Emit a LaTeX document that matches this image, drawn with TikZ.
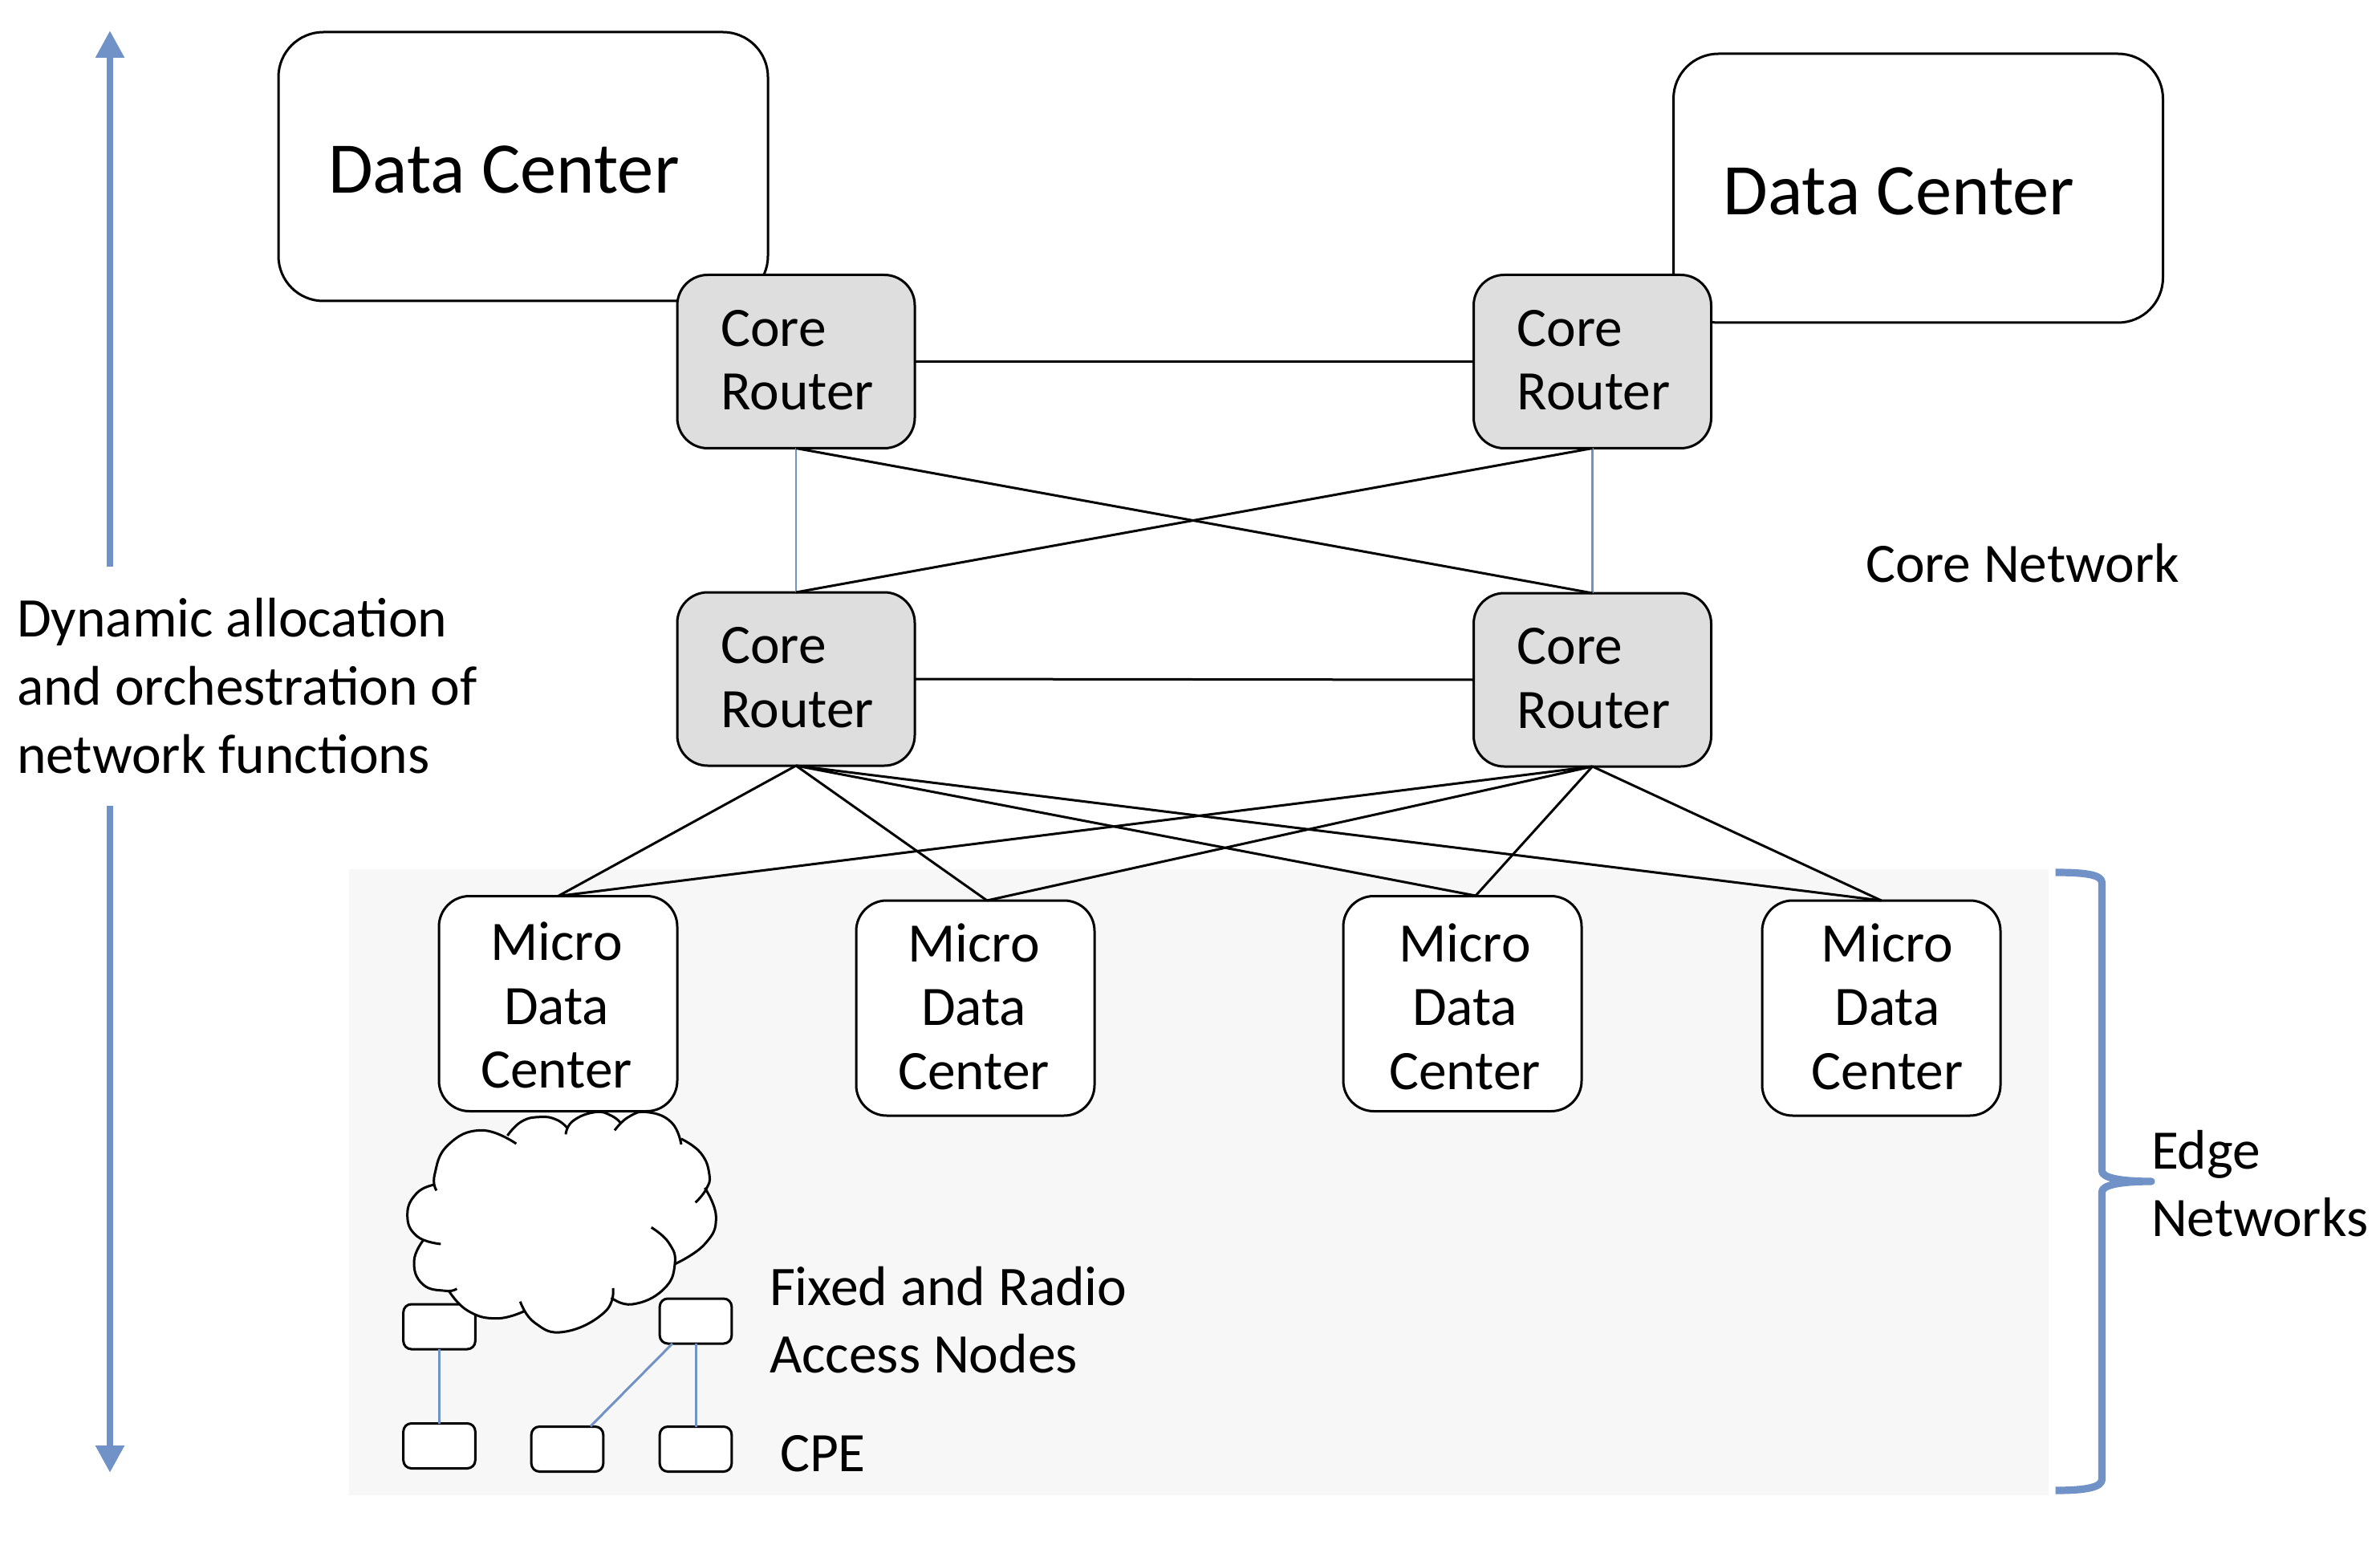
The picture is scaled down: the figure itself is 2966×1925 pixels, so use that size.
\documentclass[tikz,border=0pt]{standalone}
\usepackage{fontspec}
\setmainfont{Carlito}
\usetikzlibrary{arrows.meta}
\definecolor{bluel}{HTML}{7092C6}
\definecolor{coregray}{HTML}{DEDEDE}
\definecolor{edgegray}{HTML}{F7F7F7}
\tikzset{
  boxbase/.style={draw=black,line width=1.5pt,rounded corners=19pt,outer sep=0pt,inner sep=0pt},
  dcbox/.style={boxbase,fill=white,rounded corners=28pt,minimum width=305pt,minimum height=167.5pt,
     font=\fontsize{45.3}{50}\selectfont},
  corebox/.style={boxbase,fill=coregray,minimum width=148pt,minimum height=108pt,
     font=\fontsize{34.7}{39.75}\selectfont},
  microbox/.style={boxbase,fill=white,minimum width=148.5pt,minimum height=134pt,
     font=\fontsize{34.7}{39.75}\selectfont},
  smallbox/.style={draw=black,line width=1.5pt,fill=white,rounded corners=5pt,outer sep=0pt,inner sep=0pt,
     minimum width=44.8pt,minimum height=28pt},
  label/.style={inner sep=0pt,outer sep=0pt,anchor=base west,align=left,
     font=\fontsize{34.7}{42}\selectfont},
  blk/.style={draw=black,line width=1.5pt},
  thinblue/.style={draw=bluel,line width=1.3pt},
  fatarrow/.style={draw=bluel,line width=4.3pt,-{Triangle[length=17pt,width=17pt]}},
  lobe/.style={line width=1.5pt,draw=black,line cap=butt}
}
\newcommand{\lobefill}[1]{\fill[white] plot[smooth,tension=0.8] coordinates {#1};}
\newcommand{\lobedraw}[1]{\draw[lobe] plot[smooth,tension=0.8] coordinates {#1};}
% text placed inside a box, nudged by (#1 right, #2 up) without changing the box
\newcommand{\microtext}[2]{\kern#1\raisebox{#2}[\height][\depth]{\parbox[c]{140pt}{\centering Micro\\Data\\Center}}\kern-#1\relax}
\newcommand{\coretext}{\kern3.2pt\raisebox{0.9pt}[\height][\depth]{\parbox[c]{100pt}{Core\\Router}}\kern-3.2pt\relax}
\newcommand{\dctext}{\raisebox{-1.9pt}[\height][\depth]{\makebox[243pt][l]{Data Center}}}
\begin{document}
\begin{tikzpicture}[x=0.5pt,y=-0.5pt]
\useasboundingbox (0,0) rectangle (2966,1925);
% edge region
\fill[edgegray] (435,1083) rectangle (2553,1863);

% data centers
\node[dcbox] (dc1) at (652,207.5) {\dctext};
\node[dcbox] (dc2) at (2390.5,234.5) {\dctext};

% core routers
\node[corebox] (c1) at (992,450.5) {\coretext};
\node[corebox] (c2) at (1984.5,450.5) {\coretext};
\node[corebox] (c3) at (992,846) {\coretext};
\node[corebox] (c4) at (1984.5,847) {\coretext};

% micro data centers
\node[microbox] (m1) at (695.5,1250.5) {\microtext{-1pt}{-0.95pt}};
\node[microbox] (m2) at (1215.5,1256) {\microtext{-1pt}{0.95pt}};
\node[microbox] (m3) at (1822.5,1250.5) {\microtext{1.5pt}{-1.9pt}};
\node[microbox] (m4) at (2344.5,1256) {\microtext{3.8pt}{0.95pt}};

\coordinate (m2top) at (1230,1122);
\coordinate (m3top) at (1839,1116);

% connectors
\draw[blk] (c1.east) -- (c2.west);
\draw[blk] (c3.east) -- (c4.west);
\draw[thinblue] (c1.south) -- (c3.north);
\draw[thinblue] (c2.south) -- (c4.north);
\draw[blk] (c1.south) -- (c4.north);
\draw[blk] (c2.south) -- (c3.north);
\draw[blk] (c3.south) -- (m1.north);
\draw[blk] (c3.south) -- (m2top);
\draw[blk] (c3.south) -- (m3top);
\draw[blk] (c3.south) -- (m4.north);
\draw[blk] (c4.south) -- (m1.north);
\draw[blk] (c4.south) -- (m2top);
\draw[blk] (c4.south) -- (m3top);
\draw[blk] (c4.south) -- (m4.north);

% small boxes
\node[smallbox] (s1) at (547.5,1653) {};
\node[smallbox] (s2) at (867,1646) {};
\node[smallbox] (s3) at (547.5,1801.5) {};
\node[smallbox] (s4) at (707,1805.5) {};
\node[smallbox] (s5) at (867,1805.5) {};
\coordinate (s2foot) at (838,1674);
\coordinate (s4head) at (736,1777);
\draw[thinblue,line width=1.5pt] (s1.south) -- (s3.north);
\draw[thinblue,line width=1.5pt] (s2.south) -- (s5.north);
\draw[thinblue,line width=1.5pt] (s2foot) -- (s4head);

% cloud
\begin{scope}[shift={(460,1340)},scale=1/3]
\fill[white] (245,408) -- (517,225) -- (740,195) -- (925,180) -- (1167,235) -- (1255,420)
   -- (1143,705) -- (905,830) -- (582,880) -- (298,805) -- (203,615) -- cycle;
\def\la{(245,408) (178,440) (143,520) (178,600) (268,630)}
\def\lb{(252,430) (245,370) (295,260) (420,205) (550,255)}
\def\lc{(517,225) (570,172) (640,155) (700,165) (740,195)}
\def\ld{(735,220) (762,170) (845,137) (905,150) (943,180)}
\def\le{(918,205) (970,155) (1040,137) (1130,175) (1167,258)}
\def\lf{(1167,237) (1240,290) (1272,370) (1260,425) (1220,475)}
\def\lg{(1255,420) (1297,530) (1255,630) (1143,705)}
\def\lh{(1055,568) (1120,625) (1143,705) (1100,800) (985,855) (905,830)}
\def\li{(912,795) (880,885) (730,958) (620,925) (565,845)}
\def\lj{(582,880) (478,908) (370,880) (298,805)}
\def\lk{(328,797) (285,805) (200,780) (168,695) (203,615)}
\lobefill{\la}\lobefill{\lb}\lobefill{\lc}\lobefill{\ld}\lobefill{\le}\lobefill{\lf}
\lobefill{\lg}\lobefill{\lh}\lobefill{\li}\lobefill{\lj}\lobefill{\lk}
\lobedraw{\la}\lobedraw{\lb}\lobedraw{\lc}\lobedraw{\ld}\lobedraw{\le}\lobedraw{\lf}
\lobedraw{\lg}\lobedraw{\lh}\lobedraw{\li}\lobedraw{\lj}\lobedraw{\lk}
\end{scope}

% vertical arrow
\node[label,font=\fontsize{34.8}{42.3}\selectfont] (dyn) at (21,963) {Dynamic allocation\\and orchestration of\\network functions};
\coordinate (aU0) at (137,706);
\coordinate (aU1) at (137,38);
\coordinate (aD0) at (137,1004);
\coordinate (aD1) at (137,1835);
\draw[fatarrow] (aU0) -- (aU1);
\draw[fatarrow] (aD0) -- (aD1);

% brace
\draw[draw=bluel,line width=4.6pt,line join=round]
  (2561.6,1087) .. controls (2600,1087) and (2619.5,1090) .. (2619.5,1100)
  -- (2619.5,1459) .. controls (2619.5,1467) and (2640,1472) .. (2681,1472)
  .. controls (2640,1472) and (2619.5,1477) .. (2619.5,1485)
  -- (2619.5,1843) .. controls (2619.5,1853) and (2600,1857) .. (2561.6,1857);

% labels
\node[label] (corenet) at (2325,725) {Core Network};
\node[label] (edge) at (2681,1540) {Edge\\Networks};
\node[label,font=\fontsize{34.8}{42}\selectfont] (fixed) at (959,1710) {Fixed and Radio\\Access Nodes};
\node[label] (cpe) at (972,1833) {CPE};
\end{tikzpicture}
\end{document}
